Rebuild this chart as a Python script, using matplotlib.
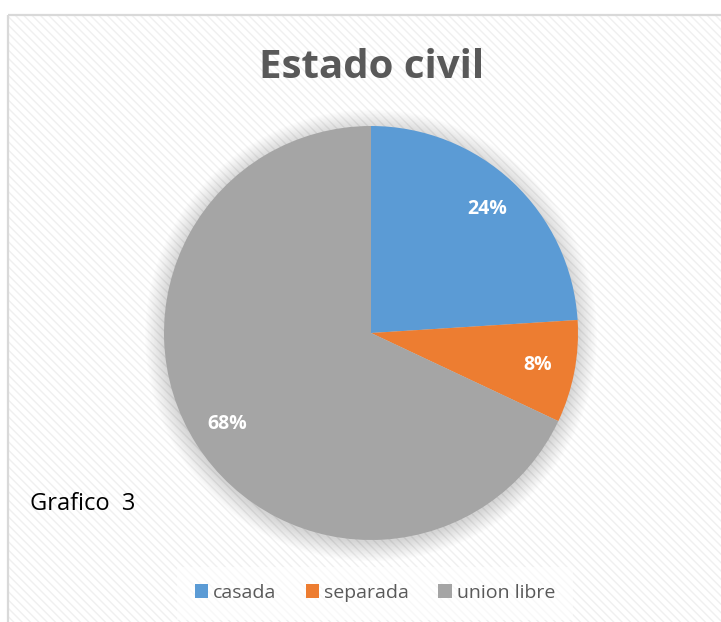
import matplotlib.pyplot as plt
from matplotlib.patches import Rectangle, Circle

# data
labels = ["casada", "separada", "union libre"]
values = [24, 8, 68]
colors = ["#5B9BD5", "#ED7D31", "#A5A5A5"]
title = "Estado civil"
note = "Grafico  3"

W, H = 721, 622
plt.rcParams['font.family'] = ['Open Sans', 'DejaVu Sans']
plt.rcParams['hatch.linewidth'] = 1.0
plt.rcParams['hatch.color'] = '#F0F0F0'

fig = plt.figure(figsize=(W / 100, H / 100), dpi=100)
fig.patch.set_facecolor("white")

# background axes in pixel coords: striped chart area + grey frame
bg = fig.add_axes([0, 0, 1, 1], zorder=-1)
bg.set_xlim(0, W)
bg.set_ylim(H, 0)
bg.axis("off")
bg.add_patch(Rectangle((8, 15), W + 10, H, facecolor="white", edgecolor="#F0F0F0",
                       lw=0, hatch="\\" * 4))
bg.add_patch(Rectangle((8, 15), W + 10, H, facecolor="none", edgecolor="#D9D9D9", lw=1.6))

# pie axes: centre (371, 333), radius 207 px
cx, cy, r = 371, 333, 207
ax = fig.add_axes([(cx - r * 1.1) / W, (H - cy - r * 1.1) / H, 2.2 * r / W, 2.2 * r / H])

# soft shadow around the pie
for i in range(14):
    ax.add_patch(Circle((0, -0.012), 1.0 + i * 0.007, facecolor="#000000",
                        alpha=0.012, lw=0, zorder=0))

wedges, texts, autotexts = ax.pie(values, colors=colors, startangle=90, counterclock=False,
                                  radius=1.0, autopct="%1.0f%%", pctdistance=0.82,
                                  wedgeprops=dict(linewidth=0),
                                  textprops=dict(color="white", fontsize=14, fontweight="bold"))
for w in wedges:
    w.set_zorder(2)
for t in autotexts:
    t.set_zorder(3)
ax.set_xlim(-1.1, 1.1)
ax.set_ylim(-1.1, 1.1)
ax.set_aspect("equal")
ax.axis("off")

fig.text(372 / W, 1 - 68 / H, title, ha="center", va="center", fontsize=29,
         fontweight="bold", color="#595959")
fig.text(30 / W, 1 - 504 / H, note, ha="left", va="center", fontsize=17, color="black")

handles = [Rectangle((0, 0), 1, 1, facecolor=c, lw=0) for c in colors]
leg = fig.legend(handles, labels, loc="center", bbox_to_anchor=(375 / W, 1 - 593 / H),
                 ncol=3, frameon=True, fontsize=14, handlelength=0.7, handleheight=0.7,
                 handletextpad=0.25, columnspacing=1.5, labelcolor="#595959")
leg.get_frame().set_facecolor("white")
leg.get_frame().set_alpha(0.6)
leg.get_frame().set_linewidth(0)
leg.get_frame().set_boxstyle("square", pad=0.5)

fig.savefig("out.png", dpi=100)
